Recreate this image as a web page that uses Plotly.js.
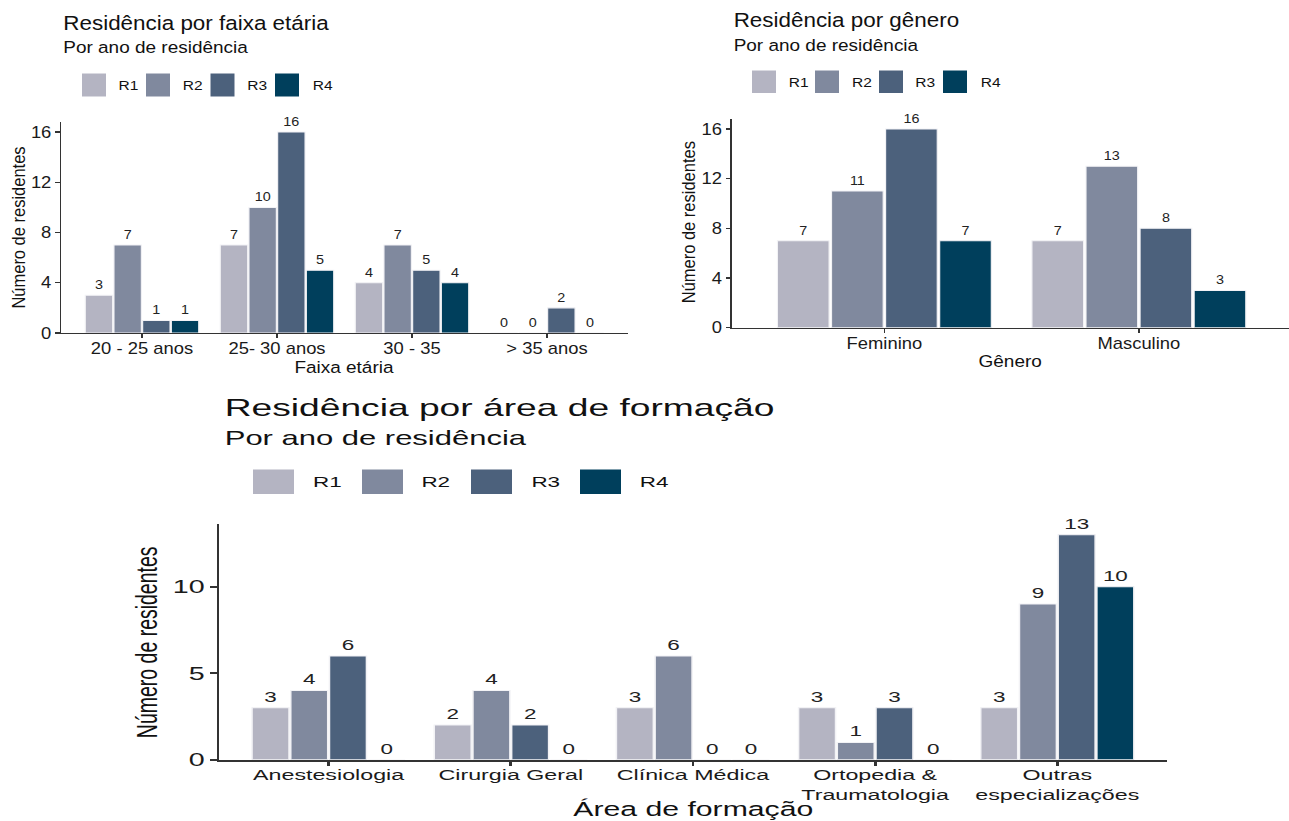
<!DOCTYPE html>
<html>
<head>
<meta charset="utf-8">
<script src="https://cdn.plot.ly/plotly-3.0.1.min.js"></script>
<style>
  html, body { margin:0; padding:0; background:#ffffff; overflow:hidden; }
  #wrap { position:relative; width:1289px; height:821px; }
  #top { position:absolute; left:0; top:0; width:1121px; height:821px; transform:scaleX(1.149866); transform-origin:0 0; }
  #bot { position:absolute; left:0; top:0; width:832px; height:821px; transform:scaleX(1.549279); transform-origin:0 0; }
</style>
</head>
<body>
<div id="wrap"><div id="top"></div><div id="bot"></div></div>
<script>
// ---------------- DATA ----------------
const seriesNames = ['R1', 'R2', 'R3', 'R4'];
const seriesColors = ['#b4b4c2', '#80899e', '#4c617c', '#003f5c'];

const faixaCats = ['20 - 25 anos', '25- 30 anos', '30 - 35', '> 35 anos'];
const faixaR1 = [3, 7, 4, 0];
const faixaR2 = [7, 10, 7, 0];
const faixaR3 = [1, 16, 5, 2];
const faixaR4 = [1, 5, 4, 0];

const generoCats = ['Feminino', 'Masculino'];
const generoR1 = [7, 7];
const generoR2 = [11, 13];
const generoR3 = [16, 8];
const generoR4 = [7, 3];

const areaCats = ['Anestesiologia', 'Cirurgia Geral', 'Clínica Médica', 'Ortopedia &<br>Traumatologia', 'Outras<br>especializações'];
const areaR1 = [3, 2, 3, 3, 3];
const areaR2 = [4, 4, 6, 1, 9];
const areaR3 = [6, 2, 0, 3, 13];
const areaR4 = [0, 0, 0, 0, 10];

const ticks16 = [0, 4, 8, 12, 16];
const ticks10 = [0, 5, 10];

// ---------------- HELPERS ----------------
const W = 1289, H = 821;
const FONT = 'Liberation Sans, Arial, Helvetica, sans-serif';
const fx = px => px / W;
const fy = py => 1 - py / H;

function bars(cats, vals, i, xa, ya, fs) {
  return {
    type: 'bar', x: cats, y: vals, name: seriesNames[i], xaxis: xa, yaxis: ya,
    marker: { color: seriesColors[i], line: { color: '#f2f2f5', width: 1 } },
    text: vals.map(String), textposition: 'outside', constraintext: 'none',
    textfont: { family: FONT, size: fs, color: '#222222' },
    cliponaxis: false, showlegend: false, hoverinfo: 'skip'
  };
}

function ann(text, xpx, ypx, size, xanchor, extra) {
  return Object.assign({
    text: text, xref: 'paper', yref: 'paper', x: fx(xpx), y: fy(ypx),
    xanchor: xanchor || 'left', yanchor: 'middle', showarrow: false,
    font: { family: FONT, size: size, color: '#111111' }
  }, extra || {});
}

function legend(sqX, sqW, sqY0, sqY1, labX, labY, size) {
  const shapes = [], anns = [];
  seriesNames.forEach((n, i) => {
    shapes.push({ type: 'rect', xref: 'paper', yref: 'paper',
      x0: fx(sqX[i]), x1: fx(sqX[i] + sqW), y0: fy(sqY1), y1: fy(sqY0),
      fillcolor: seriesColors[i], line: { width: 0 } });
    anns.push(ann(n, labX[i], labY, size, 'left'));
  });
  return { shapes, anns };
}

function axisBase(lw, fs) {
  return {
    showline: true, linecolor: '#333333', linewidth: lw, ticks: 'outside', ticklen: 4,
    tickcolor: '#333333', tickwidth: lw, showgrid: false, zeroline: false,
    tickfont: { family: FONT, size: fs, color: '#1a1a1a' }, fixedrange: true
  };
}

// ---------------- TOP (two charts) ----------------
const topTraces = [];
[faixaR1, faixaR2, faixaR3, faixaR4].forEach((v, i) => topTraces.push(bars(faixaCats, v, i, 'x', 'y', 12.5)));
[generoR1, generoR2, generoR3, generoR4].forEach((v, i) => topTraces.push(bars(generoCats, v, i, 'x2', 'y2', 12.5)));

const leg1 = legend([82, 146, 210.5, 275], 24, 73.5, 96.5, [116, 180, 245, 310], 85, 13.5);
const leg2 = legend([752, 815, 879, 943], 24, 70.5, 93, [787, 850, 913, 978], 82, 13.5);

const topLayout = {
  width: 1121, height: 821, autosize: false,
  margin: { l: 0, r: 0, t: 0, b: 0 },
  paper_bgcolor: '#ffffff', plot_bgcolor: 'rgba(0,0,0,0)',
  barmode: 'group', bargap: 0.15, bargroupgap: 0.045,
  font: { family: FONT },
  xaxis: Object.assign(axisBase(1.2, 16), { domain: [fx(61), fx(628)], range: [-0.6, 3.6], type: 'category', anchor: 'y', ticklabelstandoff: -3 }),
  yaxis: Object.assign(axisBase(1.2, 16), { domain: [fy(333), fy(122)], range: [0, 16.8], tickvals: ticks16, anchor: 'x' }),
  xaxis2: Object.assign(axisBase(1.2, 16), { domain: [fx(731.7), 1], range: [-0.6, 1.59], type: 'category', anchor: 'y2', ticklabelstandoff: -3 }),
  yaxis2: Object.assign(axisBase(1.2, 16), { domain: [fy(327.7), fy(119)], range: [0, 16.8], tickvals: ticks16, anchor: 'x2' }),
  shapes: leg1.shapes.concat(leg2.shapes),
  annotations: [
    ann('Residência por faixa etária', 61, 23, 19.5),
    ann('Por ano de residência', 61, 47.5, 16.5),
    ann('Faixa etária', 344.5, 367, 16.5, 'center'),
    ann('Número de residentes', 18, 228, 16.5, 'center', { textangle: -90 }),
    ann('Residência por gênero', 731.7, 20, 19.5),
    ann('Por ano de residência', 731.7, 44.5, 16.5),
    ann('Gênero', 1010, 361, 16.5, 'center'),
    ann('Número de residentes', 688, 222, 16.5, 'center', { textangle: -90 })
  ].concat(leg1.anns, leg2.anns)
};

// ---------------- BOTTOM (one chart) ----------------
const botTraces = [];
[areaR1, areaR2, areaR3, areaR4].forEach((v, i) => botTraces.push(bars(areaCats, v, i, 'x', 'y', 14.5)));

const leg3 = legend([253, 362, 471, 580], 41, 469.5, 494, [310, 419, 528, 637], 482, 14.5);

const botLayout = {
  width: 832, height: 821, autosize: false,
  margin: { l: 0, r: 0, t: 0, b: 0 },
  paper_bgcolor: 'rgba(0,0,0,0)', plot_bgcolor: 'rgba(0,0,0,0)',
  barmode: 'group', bargap: 0.15, bargroupgap: 0.045,
  font: { family: FONT },
  xaxis: Object.assign(axisBase(1.8, 15), { domain: [fx(219.3), fx(1166.6)], range: [-0.6, 4.6], type: 'category', anchor: 'y', ticklabelstandoff: -3 }),
  yaxis: Object.assign(axisBase(1.8, 18.5), { domain: [fy(759.7), fy(523.5)], range: [0, 13.65], tickvals: ticks10, anchor: 'x' }),
  shapes: leg3.shapes,
  annotations: [
    ann('Residência por área de formação', 222, 408, 24),
    ann('Por ano de residência', 222, 438, 20),
    ann('Área de formação', 693, 809, 19.5, 'center'),
    ann('Número de residentes', 146, 642, 19.5, 'center', { textangle: -90 })
  ].concat(leg3.anns)
};

const cfg = { staticPlot: true, displayModeBar: false, responsive: false };
Plotly.newPlot('top', topTraces, topLayout, cfg);
Plotly.newPlot('bot', botTraces, botLayout, cfg);
</script>
</body>
</html>
